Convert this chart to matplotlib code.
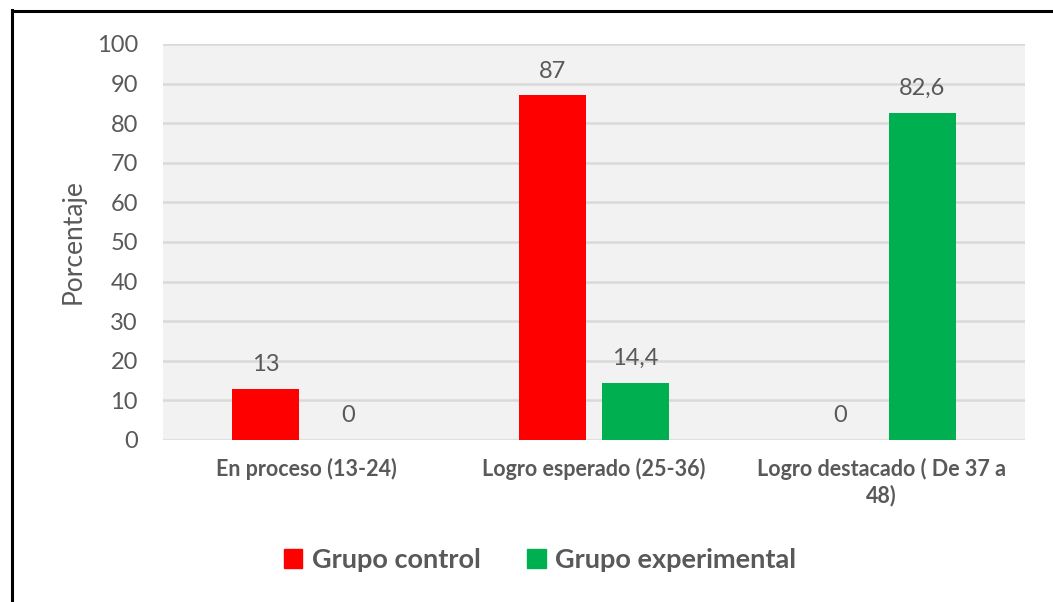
import matplotlib
matplotlib.use("Agg")
import matplotlib.pyplot as plt
import numpy as np
from matplotlib.lines import Line2D
from matplotlib.patches import Patch

categories = ["En proceso (13-24)", "Logro esperado (25-36)", "Logro destacado ( De 37 a\n48)"]
series_names = ["Grupo control", "Grupo experimental"]
control = [13, 87, 0]
experimental = [0, 14.4, 82.6]
labels_control = ["13", "87", "0"]
labels_experimental = ["0", "14,4", "82,6"]
yticks = [0, 10, 20, 30, 40, 50, 60, 70, 80, 90, 100]

plt.rcParams['font.family'] = ['Lato', 'DejaVu Sans']
txt = "#595959"

fig = plt.figure(figsize=(10.53, 6.02), dpi=100)
ax = fig.add_axes([163/1053, 1-440/602, (1025-163)/1053, (440-44)/602])
ax.set_facecolor("#F2F2F2")

x = np.arange(len(categories))
w = 0.233
off = 0.143
b1 = ax.bar(x - off, control, w, color="#FF0000", zorder=3)
b2 = ax.bar(x + off, experimental, w, color="#00B050", zorder=3)

for bars, labs in ((b1, labels_control), (b2, labels_experimental)):
    for rect, lab in zip(bars, labs):
        ax.annotate(lab, (rect.get_x() + rect.get_width()/2, rect.get_height()),
                    xytext=(0, 10), textcoords="offset points", ha="center", va="bottom",
                    fontsize=17, color=txt)

ax.set_xlim(-0.5, 2.5)
ax.set_ylim(0, 100)
ax.set_yticks(yticks)
ax.set_yticklabels([str(t) for t in yticks], fontsize=17, color=txt)
ax.yaxis.grid(True, color="#D9D9D9", linewidth=1.8, zorder=0)
ax.set_axisbelow(True)
ax.set_xticks(x)
ax.set_xticklabels(categories, fontsize=15.5, fontweight="bold", color=txt, linespacing=1.25)
ax.tick_params(axis="both", length=0)
ax.tick_params(axis="y", pad=18)
ax.tick_params(axis="x", pad=13)
for s in ax.spines.values():
    s.set_visible(False)
ax.set_ylabel("Porcentaje", fontsize=19, color=txt, labelpad=8)

handles = [Patch(color="#FF0000"), Patch(color="#00B050")]
fig.legend(handles, series_names, loc="center", bbox_to_anchor=(540/1053, 1-560/602),
           ncol=2, frameon=False, handlelength=0.7, handleheight=0.7,
           columnspacing=1.7, handletextpad=0.35, labelcolor=txt,
           prop={"weight": "bold", "size": 19.5})

# outer border lines (top and left)
fig.add_artist(Line2D([11.5/1053, 11.5/1053], [0, 1-10/602], color="black", linewidth=2.2, transform=fig.transFigure))
fig.add_artist(Line2D([11.5/1053, 1], [1-10.5/602, 1-10.5/602], color="black", linewidth=2.2, transform=fig.transFigure))

fig.savefig("out.png", dpi=100)
